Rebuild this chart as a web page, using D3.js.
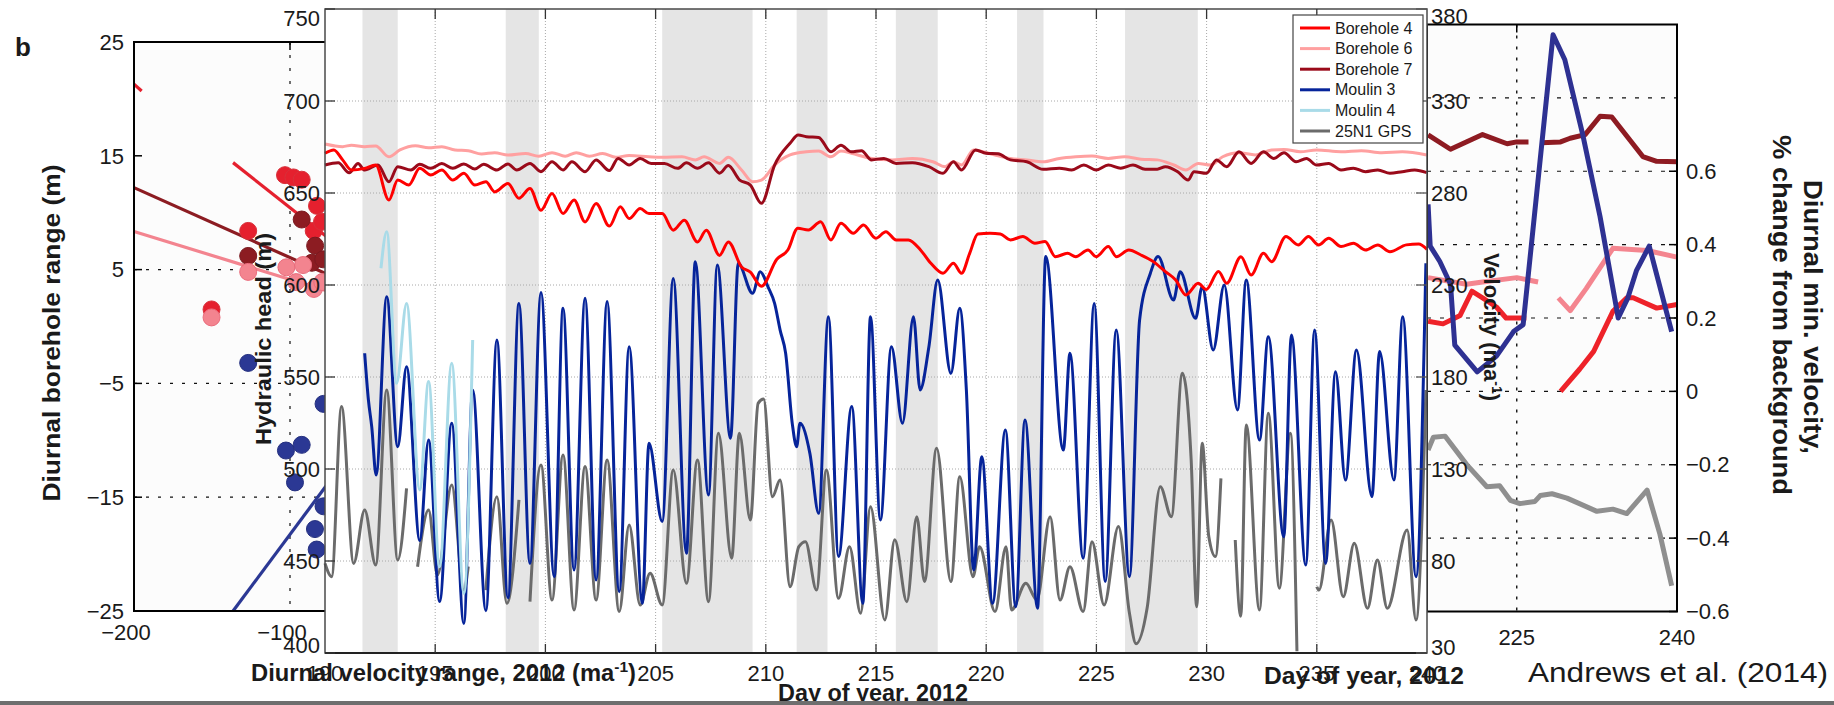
<!DOCTYPE html>
<html>
<head>
<meta charset="utf-8">
<script src="https://cdn.jsdelivr.net/npm/d3@7"></script>
<style>
  body { margin:0; background:#fff; }
  svg text { font-family:"Liberation Sans", Arial, Helvetica, sans-serif; fill:#1a1a1a; }
  svg text.ttl { font-weight:bold; font-family:"Liberation Sans Narrow","Arial Narrow","Liberation Sans",sans-serif; }
</style>
</head>
<body>
<script>
// ---------------- data ----------------
// centre panel: day of year 2012
var dayTicks  = [190,195,200,205,210,215,220,225,230,235,240];
var headTicks = [400,450,500,550,600,650,700,750];
var velTicks  = [30,80,130,180,230,280,330,380];

// shaded (night / cloudy) periods
var shadeStart = [191.7,198.2,205.3,211.4,215.9,221.4,226.3];
var shadeEnd   = [193.3,199.7,209.4,212.8,217.8,222.6,229.6];

var legendNames = ["Borehole 4","Borehole 6","Borehole 7","Moulin 3","Moulin 4","25N1 GPS"];

// hydraulic head (m) [day, head]
var borehole4 = [[190.0,671.6],[190.4,673.4],[190.8,668],[191.2,662.5],[191.8,663.4],[192.3,665.2],[192.9,646.2],[193.3,657],[193.8,654.3],[194.3,663.4],[194.8,659.8],[195.3,662.5],[195.8,657],[196.3,660.7],[196.8,654.3],[197.3,656.1],[197.7,650.6],[198.3,655.2],[198.8,647.1],[199.3,652.4],[199.8,640.6],[200.3,649.7],[200.8,638.8],[201.3,646.2],[201.8,634.3],[202.3,644.3],[202.9,632],[203.4,642.5],[203.8,636.1],[204.3,641.6],[204.7,638.8],[205.3,638.8],[205.8,629.8],[206.3,635.2],[206.9,623.4],[207.3,629.8],[207.9,616.1],[208.3,623.4],[208.9,609.8],[209.3,607],[209.8,599.3],[210.5,614],[211.0,619],[211.45,630.8],[211.93,629.9],[212.49,634.4],[212.95,624.5],[213.41,633.5],[213.97,628.1],[214.43,632.6],[214.99,625.4],[215.45,629],[215.91,624.5],[216.47,624.5],[217.02,619],[217.49,611.8],[218.04,606.4],[218.51,611.8],[218.88,606.4],[219.25,617.2],[219.62,627.7],[220.17,628.1],[220.64,627.7],[221.1,624.5],[221.66,626.3],[222.21,622.7],[222.67,623.6],[223.14,615.4],[223.69,617.2],[224.06,615.4],[224.62,619],[224.99,615.4],[225.54,620.9],[225.91,615.4],[226.47,619],[227.02,616.3],[227.58,612.7],[228.13,607.3],[228.6,602.7],[229.06,594.6],[229.62,600.9],[229.99,597.6],[230.54,607.3],[230.91,600.9],[231.56,615.4],[232.02,605.4],[232.58,617.2],[232.95,612.7],[233.6,626.3],[234.16,621.8],[234.62,626.3],[235.08,621.8],[235.54,625.4],[236.1,620.9],[236.66,622.7],[237.21,619],[237.77,621.8],[238.32,618.1],[239.06,621.8],[239.62,622.3],[240.0,619.4]];

var borehole6 = [[190.0,676.6],[190.8,675.2],[191.2,676],[191.8,675.2],[192.3,675.6],[192.9,669.7],[193.4,673.4],[194.1,675.7],[194.7,674.6],[195.3,675.2],[195.9,673.4],[196.5,673],[197.1,671.2],[197.7,671.9],[198.3,670.6],[199.1,671.5],[199.7,670],[200.3,671.9],[200.9,670],[201.4,671.9],[202.0,670],[202.6,671.5],[203.2,669.4],[203.8,670.4],[204.7,669.7],[205.3,669.4],[206.2,669.7],[206.8,668],[207.2,669.7],[207.9,666.1],[208.3,669.4],[208.9,662.5],[209.4,656.1],[209.8,657],[210.4,665.2],[211.1,670.7],[211.84,672.4],[212.4,672.8],[212.95,669.7],[213.41,672.8],[213.88,671.6],[214.8,668.8],[215.73,668],[216.65,668.8],[217.58,667],[218.14,664.3],[218.51,667],[218.88,665.2],[219.43,673.4],[220.36,670.7],[221.1,668.8],[221.84,668],[222.58,667],[223.32,668.8],[224.06,669.7],[224.8,670.1],[225.54,668.8],[226.28,669.7],[227.02,668.4],[227.76,668],[228.51,665.2],[229.06,662.5],[229.62,666.1],[230.17,665.2],[230.73,669.7],[231.47,671.9],[232.21,670.7],[232.95,673.4],[233.51,673.7],[234.25,672.4],[234.99,673.4],[236.1,672.4],[237.02,673],[237.95,671.9],[238.88,672.4],[239.99,670.7]];

var borehole7 = [[190.0,665.2],[190.6,666.4],[191.1,661],[191.5,666],[191.8,662.5],[192.4,665.2],[192.9,656.1],[193.3,664.3],[193.9,662.5],[194.3,665.6],[194.8,663.4],[195.3,666],[195.8,663.4],[196.3,665.8],[196.8,663],[197.2,665.6],[197.8,662.5],[198.3,665.8],[198.7,662.5],[199.3,666],[199.8,661.6],[200.3,667],[200.8,662.5],[201.2,667],[201.8,661.6],[202.3,668],[202.9,662.2],[203.3,668.8],[203.8,665.2],[204.3,668.8],[204.8,666],[205.4,666],[206.0,663.4],[206.4,666.4],[206.9,663.4],[207.4,666.4],[207.9,660.8],[208.3,664.9],[208.8,657.2],[209.3,654.3],[209.8,644.4],[210.4,665.2],[211.1,677],[211.47,681.5],[211.84,680.6],[212.4,680.2],[212.95,672.4],[213.41,676],[213.88,672.4],[214.34,673],[214.8,668],[215.36,668.8],[215.91,666.1],[216.65,666.5],[217.4,664.3],[218.04,660.7],[218.51,667],[218.88,662.5],[219.52,673.4],[219.99,671.6],[220.54,671.3],[221.1,668],[221.84,667],[222.58,662.9],[223.32,663.5],[223.88,662.5],[224.43,665.2],[224.99,662.5],[225.54,665.2],[226.1,663.5],[226.66,665.2],[227.21,662.9],[227.76,662.9],[228.13,664.3],[228.69,661.6],[229.16,657.1],[229.43,661.6],[229.99,660.7],[230.45,668],[230.91,664.3],[231.47,672.4],[232.02,666.1],[232.58,672.4],[233.04,668.8],[233.51,671.9],[234.06,667],[234.53,668.8],[234.99,665.2],[235.54,666.1],[236.1,662.5],[236.66,663.5],[237.21,661.6],[237.77,662.5],[238.32,660.7],[238.88,661.6],[239.44,662.5],[239.99,661.1]];

var moulin3 = [[191.8,562.9],[191.97,537.5],[192.12,523],[192.32,496.7],[192.8,593.6],[193.3,512.1],[193.7,555.6],[194.3,461.1],[194.7,515.8],[195.2,428],[195.75,524.8],[196.3,416],[196.7,543],[197.3,423],[197.8,570.1],[198.3,430],[198.8,590],[199.3,448.6],[199.8,595.9],[200.4,441.5],[200.8,587.3],[201.3,445.1],[201.8,592.8],[202.3,439.7],[202.8,591],[203.35,433.3],[203.8,566.5],[204.4,427],[204.7,514],[205.3,471.4],[205.8,603.6],[206.4,454.2],[206.8,612.7],[207.4,485.9],[207.8,610.9],[208.4,516.7],[208.75,611.8],[209.4,595.5],[209.75,607.2],[210.1,599],[210.4,590],[210.65,575.5],[210.9,562.9],[211.2,524.8],[211.4,512.1],[211.55,524.8],[212.0,508.5],[212.4,475.9],[212.84,582.8],[213.3,452.4],[213.9,534],[214.4,427],[214.75,582.8],[215.2,472.3],[215.7,566.5],[216.2,524.8],[216.7,582.8],[217.0,543],[217.4,566.5],[217.8,602.7],[218.4,552],[218.8,587.3],[219.1,543],[219.43,445.1],[219.8,506.7],[220.29,427],[220.87,521.2],[221.34,425.2],[221.76,526.6],[222.33,424.3],[222.7,615.5],[223.5,510.3],[223.8,562.9],[224.4,451.5],[224.9,590],[225.4,438.8],[225.9,575.5],[226.5,441.5],[226.96,581],[227.45,606.4],[227.8,615.5],[228.5,591.8],[228.8,607.2],[229.5,581.9],[229.8,599.1],[230.3,564.7],[230.8,600],[231.4,532.1],[231.8,602.7],[232.4,515.8],[232.8,571.9],[233.5,463.2],[233.85,572.8],[234.5,447.8],[234.9,575.5],[235.4,448.7],[235.85,552.9],[236.3,494],[236.8,564.7],[237.5,485],[237.85,563.8],[238.5,494],[238.9,582.8],[239.5,441.5],[239.95,611.8]];

var moulin4 = [[192.54,609.1],[192.8,629],[193.25,546.6],[193.7,590],[194.3,488.6],[194.7,547.5],[195.2,446.9],[195.75,557.5],[196.3,432.4],[196.7,570.1]];

// 25N1 GPS velocity (m a-1) [day, velocity]; null = data gap
var gps25N1 = [[190.0,78.7],[190.3,71.5],[190.75,163.9],[191.3,78.7],[191.8,107.7],[192.3,77.8],[192.8,172.9],[193.3,80.5],[193.7,119.5],null,
  [194.2,76.9],[194.7,107.7],[195.1,72.4],[195.75,121.3],[196.3,64.2],[196.5,77],null,
  [197.3,64.2],[197.8,114.9],[198.25,57],[198.8,113.2],null,
  [199.3,57.9],[199.8,132.2],[200.3,58.8],[200.8,137.6],[201.3,53.4],[201.8,131.3],[202.3,58.8],[202.8,134.9],[203.35,52.5],[203.8,99.6],[204.3,56.1],[204.75,73.3],[205.3,56.1],[205.8,129.5],[206.4,67.9],[206.9,134.9],[207.4,57.9],[207.85,149.4],[208.45,81.5],[208.8,149.4],[209.3,102.3],[209.65,165.7],[209.9,168],[210.3,114.9],[210.65,124],[211.1,66],[211.5,87.8],[211.8,90.5],[212.3,64.2],[212.75,129.5],[213.3,59.7],[213.8,87.8],[214.3,51.6],[214.75,109.5],[215.4,48],[215.85,91.6],[216.4,57.9],[216.85,104.1],[217.2,68.8],[217.75,141.3],[218.4,68.8],[218.8,125.8],[219.4,71.5],[219.7,87.8],[220.4,52.5],[220.9,87.8],[221.15,53.4],[221.8,67.9],[222.3,58.8],[222.9,104.1],[223.35,58.8],[223.8,76.9],[224.4,52.5],[224.8,90.5],[225.35,56.1],[226.0,98.7],[226.5,51.6],[226.8,35],[227.3,54.3],[227.9,120.4],[228.4,104.1],[228.9,182],[229.3,134.9],[229.55,55.2],[229.8,144],[230.1,93.3],[230.4,82.4],[230.65,124.9],null,
  [231.3,91.4],[231.55,50],[231.8,153.9],[232.4,53.4],[232.8,160.3],[233.3,65.2],[233.8,149.4],[234.1,31],null,
  [235.0,66],[235.1,64.2],[235.65,102.3],[236.2,60.6],[236.7,89.6],[237.3,54.3],[237.75,80.5],[238.2,54.3],[239.1,96.8],[239.5,48],[239.95,172.9]];

// left panel: diurnal velocity range vs diurnal borehole range
var leftXTicks = [-200,-100,0];
var leftYTicks = [-25,-15,-5,5,15,25];
var leftGridY  = [-15,-5,5];
var dotsBH4 = [[-103.2,13.3],[-97.8,13.1],[-92.5,12.9],[-126.8,8.4],[-82.7,10.6],[-84.8,8.4],[-150.3,1.5],[-79.5,9.2]];
var dotsBH7 = [[-126.8,6.2],[-92.5,9.4],[-83.9,7.1],[-86,5.6],[-78.7,5.9]];
var dotsBH6 = [[-126.8,4.8],[-150.3,0.8],[-102.3,5.2],[-91.6,5.4],[-96,3.9],[-84.7,3.3],[-79.3,3.9]];
var dotsM3  = [[-126.8,-3.2],[-102.6,-10.9],[-92.5,-10.4],[-96.8,-13.7],[-78.5,-6.8],[-78.5,-15.8],[-84,-17.8],[-82.9,-19.6]];
var fitBH4a = [[-200,21.3],[-195.1,20.7]];
var fitBH4b = [[-136.5,14.4],[-60,6.1]];
var fitBH7  = [[-200,12.2],[-60,3.6]];
var fitBH6  = [[-200,8.35],[-60,2.45]];
var fitM3   = [[-136.5,-25],[-60,-10.9]];

// right panel: diurnal min. velocity, % change from background
var rightXTicks = [225,240];
var rightYTicks = [-0.6,-0.4,-0.2,0,0.2,0.4,0.6];
var rightGridY  = [-0.4,-0.2,0,0.2,0.4,0.6,0.8];
var rightBH7 = [[216.7,0.699],[218.8,0.66],[221.8,0.70],[224.1,0.675],[225.0,0.68],[226.1,0.68],null,[227.3,0.678],[229.1,0.68],[230.0,0.69],[231.4,0.70],[232.8,0.75],[233.9,0.748],[236.8,0.64],[238.1,0.627],[240,0.626]];
var rightBH6 = [[216.7,0.31],[220.3,0.292],[221.8,0.298],[225.0,0.31],[227.0,0.298],null,[228.9,0.255],[230.0,0.22],[231.5,0.28],[234.0,0.39],[237.2,0.384],[240,0.366]];
var rightBH4 = [[216.7,0.191],[218.1,0.184],[219.7,0.207],[220.8,0.273],[221.8,0.255],[223.1,0.23],[224.0,0.2],[225.9,0.2],null,[229.1,0],[230.9,0.061],[232.2,0.109],[234.0,0.218],[235.3,0.255],[235.9,0.255],[238.1,0.227],[240,0.237]];
var rightM3  = [[216.7,0.51],[216.9,0.396],[217.8,0.354],[218.8,0.292],[219.2,0.126],[221.3,0.053],[223.1,0.096],[224.7,0.163],[225.6,0.182],[228.4,0.972],[229.5,0.904],[231.2,0.697],[232.8,0.476],[234.5,0.2],[235.4,0.255],[236.2,0.329],[237.4,0.396],[239.5,0.163]];
var rightGPS = [[216.7,-0.16],[217.2,-0.125],[218.3,-0.122],[220.3,-0.199],[222.2,-0.26],[223.4,-0.257],[224.4,-0.297],[225.3,-0.306],[226.7,-0.3],[227.2,-0.284],[228.3,-0.279],[229.7,-0.291],[232.5,-0.327],[234.0,-0.321],[235.3,-0.333],[237.2,-0.269],[238.4,-0.389],[239.5,-0.53]];

// ---------------- drawing ----------------
var svg = d3.select("body").append("svg")
  .attr("width",1834).attr("height",705);

var col = {bh4:"#ff0000", bh6:"#ffa0a0", bh7:"#9a0a1a", m3:"#06249a", m4:"#a9dbe8", gps:"#6b6b6b"};
var colDot = {bh4:"#e5202e", bh6:"#f3848f", bh7:"#8c1c22", m3:"#2b3894"};
var colRight = {bh4:"#ee2229", bh6:"#f4858f", bh7:"#8e1b22", m3:"#2e3192", gps:"#8f8f8f"};

// ===== left panel =====
var lx = d3.scaleLinear().domain([-200,0]).range([134,446]);
var ly = d3.scaleLinear().domain([-25,25]).range([611,42]);
var gL = svg.append("g");

gL.append("rect").attr("x",lx(-200)).attr("y",ly(25))
  .attr("width",lx(0)-lx(-200)).attr("height",ly(-25)-ly(25)).attr("fill","#fcfcfc");

gL.selectAll("line.hgrid").data(leftGridY).enter().append("line")
  .attr("x1",lx(-200)).attr("x2",lx(0))
  .attr("y1",function(d){return ly(d)}).attr("y2",function(d){return ly(d)})
  .attr("stroke","#111").attr("stroke-width",1.2).attr("stroke-dasharray","3,9");
gL.append("line").attr("x1",lx(-100)).attr("x2",lx(-100)).attr("y1",ly(25)).attr("y2",ly(-25))
  .attr("stroke","#111").attr("stroke-width",1.2).attr("stroke-dasharray","3,10");

var lline = d3.line().x(function(d){return lx(d[0])}).y(function(d){return ly(d[1])});
var fits = [[fitBH4a,colDot.bh4],[fitBH4b,colDot.bh4],[fitBH7,colDot.bh7],[fitBH6,colDot.bh6],[fitM3,colDot.m3]];
fits.forEach(function(f){
  gL.append("path").attr("d",lline(f[0])).attr("fill","none")
    .attr("stroke",f[1]).attr("stroke-width",3.2);
});

[[dotsBH4,colDot.bh4,"#d8303a"],[dotsBH7,colDot.bh7,"#7a1a20"],[dotsBH6,colDot.bh6,"#ea6c7c"],[dotsM3,colDot.m3,"#25307f"]].forEach(function(s){
  gL.selectAll(null).data(s[0]).enter().append("circle")
    .attr("cx",function(d){return lx(d[0])}).attr("cy",function(d){return ly(d[1])})
    .attr("r",8.5).attr("fill",s[1]).attr("stroke",s[2]).attr("stroke-width",1);
});

// frame and ticks
gL.append("rect").attr("x",lx(-200)).attr("y",ly(25))
  .attr("width",lx(0)-lx(-200)).attr("height",ly(-25)-ly(25))
  .attr("fill","none").attr("stroke","#000").attr("stroke-width",2);
gL.selectAll("line.ytk").data(leftYTicks).enter().append("line")
  .attr("x1",lx(-200)).attr("x2",lx(-200)+8)
  .attr("y1",function(d){return ly(d)}).attr("y2",function(d){return ly(d)})
  .attr("stroke","#000").attr("stroke-width",1.5);
gL.selectAll("line.xtk").data([-100]).enter().append("line")
  .attr("x1",function(d){return lx(d)}).attr("x2",function(d){return lx(d)})
  .attr("y1",ly(25)).attr("y2",ly(25)+8).attr("stroke","#000").attr("stroke-width",1.5);
gL.selectAll("text.yl").data(leftYTicks).enter().append("text")
  .attr("x",lx(-200)-10).attr("y",function(d){return ly(d)}).attr("dy","0.35em")
  .attr("text-anchor","end").attr("font-size",22).text(d3.format("d"));
gL.selectAll("text.xl").data(leftXTicks.slice(0,2)).enter().append("text")
  .attr("x",function(d){return lx(d)-8}).attr("y",640)
  .attr("text-anchor","middle").attr("font-size",22).text(d3.format("d"));

// ===== right panel =====
var rx = d3.scaleLinear().domain([216.6,240]).range([1427,1677]);
var ry = d3.scaleLinear().domain([-0.6,1.0]).range([611.5,24.5]);
var gR = svg.append("g");
gR.append("rect").attr("x",rx(216.6)).attr("y",ry(1)).attr("width",rx(240)-rx(216.6))
  .attr("height",ry(-0.6)-ry(1)).attr("fill","#fcfcfc");
gR.selectAll("line.hgrid").data(rightGridY).enter().append("line")
  .attr("x1",rx(216.6)).attr("x2",rx(240))
  .attr("y1",function(d){return ry(d)}).attr("y2",function(d){return ry(d)})
  .attr("stroke","#111").attr("stroke-width",1.2).attr("stroke-dasharray","4,9");
gR.append("line").attr("x1",rx(225)).attr("x2",rx(225)).attr("y1",ry(1)).attr("y2",ry(-0.6))
  .attr("stroke","#111").attr("stroke-width",1.4).attr("stroke-dasharray","3,8");

var rline = d3.line().defined(function(d){return d !== null})
  .x(function(d){return rx(d[0])}).y(function(d){return ry(d[1])});
[[rightGPS,colRight.gps],[rightBH7,colRight.bh7],[rightBH6,colRight.bh6],[rightBH4,colRight.bh4],[rightM3,colRight.m3]].forEach(function(s){
  gR.append("path").attr("d",rline(s[0])).attr("fill","none")
    .attr("stroke",s[1]).attr("stroke-width",5).attr("stroke-linejoin","round");
});
gR.append("rect").attr("x",rx(216.6)).attr("y",ry(1)).attr("width",rx(240)-rx(216.6))
  .attr("height",ry(-0.6)-ry(1)).attr("fill","none").attr("stroke","#000").attr("stroke-width",2);
gR.selectAll("line.ytk").data(rightYTicks).enter().append("line")
  .attr("x1",rx(240)).attr("x2",rx(240)-8)
  .attr("y1",function(d){return ry(d)}).attr("y2",function(d){return ry(d)})
  .attr("stroke","#000").attr("stroke-width",1.5);
gR.selectAll("line.xtk").data([225]).enter().append("line")
  .attr("x1",function(d){return rx(d)}).attr("x2",function(d){return rx(d)})
  .attr("y1",ry(1)).attr("y2",ry(1)+8).attr("stroke","#000").attr("stroke-width",1.5);
gR.selectAll("text.yl").data(rightYTicks).enter().append("text")
  .attr("x",rx(240)+9).attr("y",function(d){return ry(d)}).attr("dy","0.35em")
  .attr("font-size",22).text(function(d){return d === 0 ? "0" : d3.format(".1f")(d)});
gR.selectAll("text.xl").data(rightXTicks).enter().append("text")
  .attr("x",function(d){return rx(d)}).attr("y",645)
  .attr("text-anchor","middle").attr("font-size",22).text(function(d){return d});

// ===== centre panel =====
var cx = d3.scaleLinear().domain([190,240]).range([325,1427]);
var cy = d3.scaleLinear().domain([400,750]).range([653,9]);
var vy = d3.scaleLinear().domain([30,380]).range([653,9]);
var gC = svg.append("g");

gC.append("rect").attr("x",cx(190)).attr("y",cy(750)).attr("width",cx(240)-cx(190))
  .attr("height",cy(400)-cy(750)).attr("fill","#fff");
gC.selectAll("rect.shade").data(d3.range(shadeStart.length)).enter().append("rect")
  .attr("x",function(i){return cx(shadeStart[i])})
  .attr("width",function(i){return cx(shadeEnd[i])-cx(shadeStart[i])})
  .attr("y",cy(750)).attr("height",cy(400)-cy(750)).attr("fill","#e5e5e5");

gC.selectAll("line.vg").data(dayTicks.slice(1,-1)).enter().append("line")
  .attr("x1",function(d){return cx(d)}).attr("x2",function(d){return cx(d)})
  .attr("y1",cy(750)).attr("y2",cy(400))
  .attr("stroke","#a8a8a8").attr("stroke-width",1).attr("stroke-dasharray","1,2");
gC.selectAll("line.hg").data(headTicks.slice(1,-1)).enter().append("line")
  .attr("y1",function(d){return cy(d)}).attr("y2",function(d){return cy(d)})
  .attr("x1",cx(190)).attr("x2",cx(240))
  .attr("stroke","#a8a8a8").attr("stroke-width",1).attr("stroke-dasharray","1,2");

var hline = d3.line().defined(function(d){return d !== null})
  .x(function(d){return cx(d[0])}).y(function(d){return cy(d[1])}).curve(d3.curveMonotoneX);
var vline = d3.line().defined(function(d){return d !== null})
  .x(function(d){return cx(d[0])}).y(function(d){return vy(d[1])}).curve(d3.curveMonotoneX);

gC.append("path").attr("d",vline(gps25N1)).attr("fill","none").attr("stroke",col.gps).attr("stroke-width",3);
[[moulin3,col.m3],[moulin4,col.m4],[borehole6,col.bh6],[borehole7,col.bh7],[borehole4,col.bh4]].forEach(function(s){
  gC.append("path").attr("d",hline(s[0])).attr("fill","none")
    .attr("stroke",s[1]).attr("stroke-width",3).attr("stroke-linejoin","round");
});

// frame + ticks
gC.append("rect").attr("x",cx(190)).attr("y",cy(750)).attr("width",cx(240)-cx(190))
  .attr("height",cy(400)-cy(750)).attr("fill","none").attr("stroke","#4a4a4a").attr("stroke-width",1.5);
gC.append("line").attr("x1",cx(190)).attr("x2",cx(240)).attr("y1",cy(400)).attr("y2",cy(400))
  .attr("stroke","#222").attr("stroke-width",2.2);
gC.selectAll("line.htk").data(headTicks).enter().append("line")
  .attr("x1",cx(190)).attr("x2",cx(190)+10)
  .attr("y1",function(d){return cy(d)}).attr("y2",function(d){return cy(d)})
  .attr("stroke","#333").attr("stroke-width",1.3);
gC.selectAll("line.vtk").data(velTicks).enter().append("line")
  .attr("x1",cx(240)).attr("x2",cx(240)-11)
  .attr("y1",function(d){return vy(d)}).attr("y2",function(d){return vy(d)})
  .attr("stroke","#555").attr("stroke-width",1.3);
gC.selectAll("line.dtk").data(dayTicks.slice(1,-1)).enter().append("line")
  .attr("x1",function(d){return cx(d)}).attr("x2",function(d){return cx(d)})
  .attr("y1",cy(400)).attr("y2",cy(400)-9).attr("stroke","#333").attr("stroke-width",1.3);
gC.selectAll("line.dtk2").data(dayTicks.slice(1,-1)).enter().append("line")
  .attr("x1",function(d){return cx(d)}).attr("x2",function(d){return cx(d)})
  .attr("y1",cy(750)).attr("y2",cy(750)+10).attr("stroke","#333").attr("stroke-width",1.3);

gC.selectAll("text.hl").data(headTicks).enter().append("text")
  .attr("x",cx(190)-5).attr("y",function(d){return Math.max(18,Math.min(645,cy(d)))}).attr("dy","0.35em")
  .attr("text-anchor","end").attr("font-size",22).attr("fill","#2a2a2a").text(function(d){return d});
gC.selectAll("text.vl").data(velTicks).enter().append("text")
  .attr("x",cx(240)+4).attr("y",function(d){return Math.max(16,Math.min(647,vy(d)))}).attr("dy","0.35em")
  .attr("font-size",22).attr("fill","#2a2a2a").text(function(d){return d});
gC.selectAll("text.dl").data(dayTicks).enter().append("text")
  .attr("x",function(d){return cx(d)}).attr("y",681)
  .attr("text-anchor","middle").attr("font-size",22).attr("fill","#2a2a2a").text(function(d){return d});

// legend
var gLeg = svg.append("g");
gLeg.append("rect").attr("x",1293).attr("y",15).attr("width",130).attr("height",128)
  .attr("fill","#fff").attr("stroke","#444").attr("stroke-width",1.2);
var legCols = [col.bh4,col.bh6,col.bh7,col.m3,col.m4,col.gps];
legendNames.forEach(function(n,i){
  var y = 28 + i*20.6;
  gLeg.append("line").attr("x1",1300).attr("x2",1330).attr("y1",y).attr("y2",y)
    .attr("stroke",legCols[i]).attr("stroke-width",3);
  gLeg.append("text").attr("x",1335).attr("y",y).attr("dy","0.35em")
    .attr("font-size",16).attr("fill","#222").text(n);
});

// ===== titles =====
svg.append("text").attr("x",15).attr("y",56).attr("font-size",26)
  .attr("font-weight","bold").text("b");

svg.append("text").attr("transform","translate(60,333) rotate(-90)")
  .attr("text-anchor","middle").attr("font-size",24).attr("font-weight","bold")
  .attr("textLength",337).attr("lengthAdjust","spacingAndGlyphs")
  .text("Diurnal borehole range (m)");

svg.append("text").attr("class","ttl").attr("transform","translate(271,339) rotate(-90)")
  .attr("text-anchor","middle").attr("font-size",22)
  .attr("textLength",212).attr("lengthAdjust","spacingAndGlyphs")
  .text("Hydraulic head (m)");

var vt = svg.append("text").attr("class","ttl").attr("transform","translate(1484,327) rotate(90)")
  .attr("text-anchor","middle").attr("font-size",22);
vt.append("tspan").text("Velocity (ma");
vt.append("tspan").attr("dy",-8).attr("font-size",14).text("-1");
vt.append("tspan").attr("dy",8).text(")");

svg.append("text").attr("transform","translate(1804,317) rotate(90)")
  .attr("text-anchor","middle").attr("font-size",25).attr("font-weight","bold")
  .attr("textLength",274).attr("lengthAdjust","spacingAndGlyphs")
  .text("Diurnal min. velocity,");
svg.append("text").attr("transform","translate(1773,315) rotate(90)")
  .attr("text-anchor","middle").attr("font-size",25).attr("font-weight","bold")
  .attr("textLength",360).attr("lengthAdjust","spacingAndGlyphs")
  .text("% change from background");

var xt = svg.append("text").attr("class","ttl").attr("x",251).attr("y",681).attr("font-size",23)
  .attr("textLength",385).attr("lengthAdjust","spacingAndGlyphs");
xt.append("tspan").text("Diurnal velocity range, 2012 (ma");
xt.append("tspan").attr("dy",-9).attr("font-size",15).text("-1");
xt.append("tspan").attr("dy",9).text(")");

svg.append("text").attr("class","ttl").attr("x",873).attr("y",701)
  .attr("text-anchor","middle").attr("font-size",23)
  .attr("textLength",190).attr("lengthAdjust","spacingAndGlyphs").text("Day of year, 2012");
svg.append("text").attr("class","ttl").attr("x",1364).attr("y",684)
  .attr("text-anchor","middle").attr("font-size",23)
  .attr("textLength",200).attr("lengthAdjust","spacingAndGlyphs").text("Day of year, 2012");

svg.append("text").attr("x",1528).attr("y",682).attr("font-size",28)
  .attr("textLength",300).attr("lengthAdjust","spacingAndGlyphs").text("Andrews et al. (2014)");

// bottom grey strip
svg.append("rect").attr("x",0).attr("y",701).attr("width",1834).attr("height",4).attr("fill","#6e6e6e");
</script>
</body>
</html>
